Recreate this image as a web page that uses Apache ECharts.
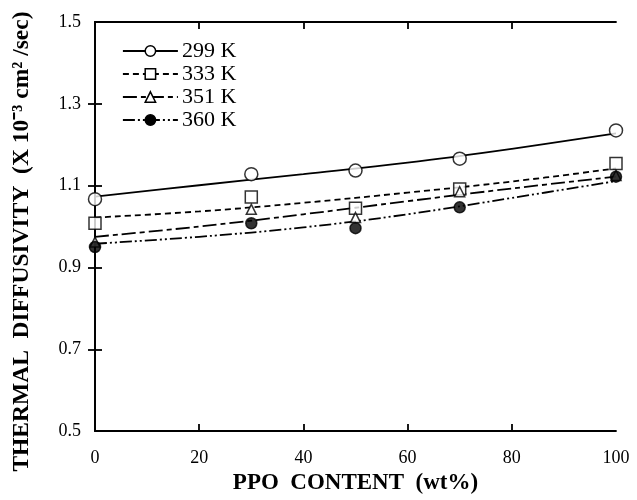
<!DOCTYPE html>
<html>
<head>
<meta charset="utf-8">
<script src="https://cdn.jsdelivr.net/npm/echarts@6/dist/echarts.min.js"></script>
<style>html,body{margin:0;padding:0;background:#fff}#c{width:637px;height:500px}</style>
</head>
<body>
<div id="c"></div>
<script>
// ---- data ----
var seriesNames = ['299 K', '333 K', '351 K', '360 K'];
var pointX = [0, 30, 50, 70, 100];
var points299 = [1.067, 1.128, 1.137, 1.166, 1.235];
var points333 = [1.008, 1.072, 1.045, 1.092, 1.154];
var points351 = [0.962, 1.042, 1.022, 1.085, 1.125];
var points360 = [0.950, 1.008, 0.996, 1.047, 1.122];
var fitX = [0, 20, 40, 60, 80, 100];
var fit299 = [1.073, 1.101, 1.128, 1.156, 1.190, 1.228];
var fit333 = [1.022, 1.037, 1.058, 1.083, 1.110, 1.142];
var fit351 = [0.975, 1.000, 1.030, 1.062, 1.093, 1.122];
var fit360 = [0.958, 0.975, 0.998, 1.030, 1.070, 1.111];
var yTickLabels = [0.5, 0.7, 0.9, 1.1, 1.3, 1.5];
var yInnerTicks = [0.7, 0.9, 1.1, 1.3];
var xTickLabels = [0, 20, 40, 60, 80, 100];
var xInnerTicks = [20, 40, 60, 80];

function pairs(xs, ys) { return xs.map(function (x, i) { return [x, ys[i]]; }); }

var font = 'Liberation Serif';
var styles = [
  { dash: 'solid', symbol: 'circle', size: 13, fill: '#fff' },
  { dash: [6, 4], symbol: 'rect', size: 12, fill: '#fff' },
  { dash: [14, 4, 5, 4], symbol: 'triangle', size: 10, fill: '#fff' },
  { dash: [12, 3, 2, 3, 2, 3], symbol: 'circle', size: 11, fill: '#000' }
];
var pts = [points299, points333, points351, points360];
var fits = [fit299, fit333, fit351, fit360];

var series = [];
seriesNames.forEach(function (n, i) {
  series.push({
    name: n, type: 'line', data: pairs(fitX, fits[i]), smooth: 0.4,
    symbol: styles[i].symbol, symbolSize: styles[i].size, showSymbol: false,
    lineStyle: { color: '#000', width: 1.8, type: styles[i].dash },
    itemStyle: { color: styles[i].fill, borderColor: '#000', borderWidth: 1.5 },
    silent: true, z: 2
  });
});
seriesNames.forEach(function (n, i) {
  series.push({
    name: n + ' pts', type: 'scatter', data: pairs(pointX, pts[i]),
    symbol: styles[i].symbol, symbolSize: styles[i].size,
    itemStyle: { color: styles[i].fill, borderColor: '#000', borderWidth: 1.5 },
    silent: true, z: 3 + i
  });
});

var legendData = seriesNames.map(function (n, i) {
  return {
    name: n,
    itemStyle: { color: styles[i].fill, borderColor: '#000', borderWidth: 1.5 },
    lineStyle: { color: '#000', width: 1.8, type: styles[i].dash, opacity: 1 }
  };
});

var axisLine = { show: true, lineStyle: { color: '#000', width: 1.8 } };
var tick = function (vals) { return { show: true, inside: true, length: 7, lineStyle: { color: '#000', width: 1.8 }, customValues: vals }; };
var chart = echarts.init(document.getElementById('c'), null, { renderer: 'canvas' });
chart.setOption({
  animation: false,
  backgroundColor: '#fff',
  grid: { left: 95, right: 21, top: 22, bottom: 63 },
  legend: {
    data: legendData, orient: 'vertical', left: 117, top: 35,
    itemWidth: 55, itemHeight: 13, itemGap: 1,
    textStyle: { fontFamily: font, fontSize: 22, color: '#000', padding: [0, 0, 0, -1] }
  },
  xAxis: [{
    type: 'value', min: 0, max: 100, interval: 20, position: 'bottom',
    name: 'PPO  CONTENT  (wt%)', nameLocation: 'middle', nameGap: 39,
    nameTextStyle: { fontFamily: font, fontWeight: 'bold', fontSize: 23, color: '#000' },
    axisLine: axisLine, axisTick: tick(xInnerTicks),
    axisLabel: { fontFamily: font, fontSize: 18, color: '#000', margin: 18, customValues: xTickLabels },
    splitLine: { show: false }
  }, {
    type: 'value', min: 0, max: 100, interval: 20, position: 'top',
    axisLine: axisLine, axisTick: tick(xInnerTicks),
    axisLabel: { show: false }, splitLine: { show: false }
  }],
  yAxis: [{
    type: 'value', min: 0.5, max: 1.5, position: 'left',
    name: 'THERMAL  DIFFUSIVITY  (X 10\u207B\u00B3 cm\u00B2 /sec)', nameLocation: 'middle', nameGap: 61,
    nameTextStyle: { fontFamily: font, fontWeight: 'bold', fontSize: 23.5, color: '#000', padding: [0, 30, 0, 0] },
    axisLine: axisLine, axisTick: tick(yInnerTicks),
    axisLabel: { fontFamily: font, fontSize: 18, color: '#000', margin: 14, customValues: yTickLabels,
      formatter: function (v) { return v.toFixed(1); } },
    splitLine: { show: false }
  }, {
    type: 'value', min: 0.5, max: 1.5, position: 'right',
    axisLine: axisLine, axisTick: tick(yInnerTicks),
    axisLabel: { show: false }, splitLine: { show: false }
  }],
  series: series
});
</script>
</body>
</html>
